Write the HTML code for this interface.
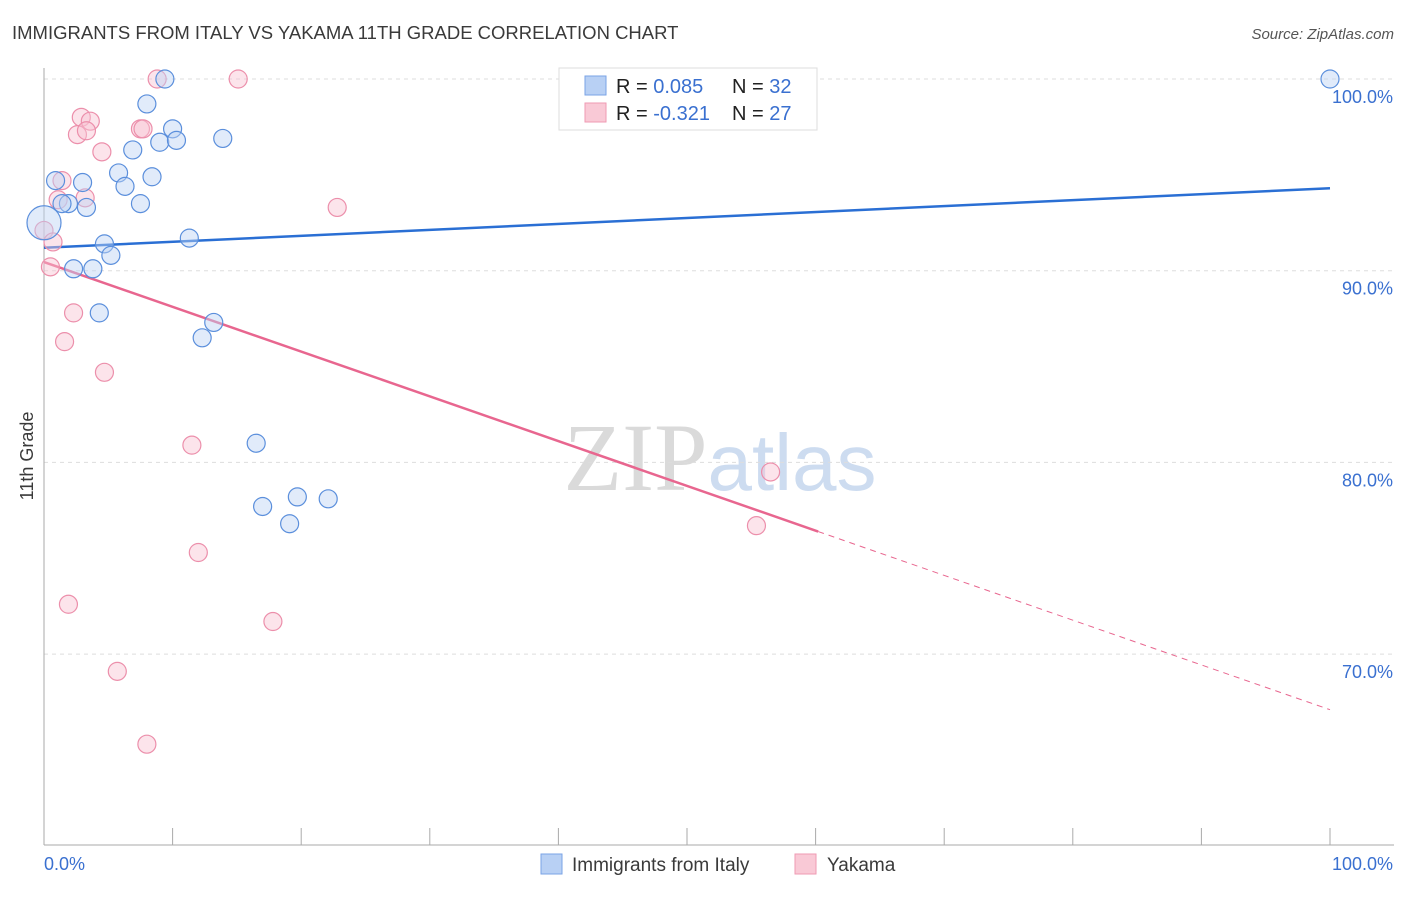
<!DOCTYPE html>
<html><head><meta charset="utf-8"><style>
body{margin:0;background:#fff;font-family:"Liberation Sans",sans-serif;}
svg text{font-family:"Liberation Sans",sans-serif;}
</style></head><body>
<svg id="chart" width="1406" height="892" xmlns="http://www.w3.org/2000/svg">
<text x="12" y="39" font-size="18.5" fill="#3a3a3a">IMMIGRANTS FROM ITALY VS YAKAMA 11TH GRADE CORRELATION CHART</text>
<text x="1394" y="39" font-size="15" fill="#555" text-anchor="end" font-style="italic">Source: ZipAtlas.com</text>
<text x="720" y="490" font-size="96" text-anchor="middle" fill="#e2e2e2"><tspan font-family="Liberation Serif" fill="#dadada">ZIP</tspan><tspan fill="#cddcf0" font-size="80">atlas</tspan></text>
<g id="grid"></g>
<g id="axes"></g>
<g id="lines"></g>
<g id="points"></g>
<text transform="translate(33,456) rotate(-90)" font-size="18" fill="#3a3a3a" text-anchor="middle">11th Grade</text>
<text x="44" y="870" font-size="18" fill="#3a70d0">0.0%</text>
<text x="1393" y="870" font-size="18" fill="#3a70d0" text-anchor="end">100.0%</text>
<g>
<rect x="559" y="68" width="258" height="62" fill="#fff" stroke="#ddd"/>
<rect x="585" y="76" width="21" height="19" fill="#b8d0f4" stroke="#7aa3e6"/>
<rect x="585" y="103" width="21" height="19" fill="#f9c9d6" stroke="#ef9ab3"/>
<text x="616" y="93" font-size="20" fill="#222">R = <tspan fill="#3a70d0">0.085</tspan><tspan x="732">N = </tspan><tspan fill="#3a70d0">32</tspan></text>
<text x="616" y="120" font-size="20" fill="#222">R = <tspan fill="#3a70d0">-0.321</tspan><tspan x="732">N = </tspan><tspan fill="#3a70d0">27</tspan></text>
</g>
<g>
<rect x="541" y="854" width="21" height="20" fill="#b8d0f4" stroke="#7aa3e6"/>
<text x="572" y="871" font-size="19" fill="#3a3a3a">Immigrants from Italy</text>
<rect x="795" y="854" width="21" height="20" fill="#f9c9d6" stroke="#ef9ab3"/>
<text x="827" y="871" font-size="19" fill="#3a3a3a">Yakama</text>
</g>
</svg>
<script>
const yTicks=[100,90,80,70];
const yTickLabels=["100.0%","90.0%","80.0%","70.0%"];
const xTicks=[0,10,20,30,40,50,60,70,80,90,100];
const italyX=[9.4,44.9,100,8.0,10.0,13.9,9.0,10.3,6.9,5.8,8.4,0.9,3.0,6.3,7.5,1.9,1.4,3.3,0,11.3,4.7,5.2,2.3,3.8,4.3,13.2,12.3,16.5,19.7,22.1,17.0,19.1];
const italyY=[100,100,100,98.7,97.4,96.9,96.7,96.8,96.3,95.1,94.9,94.7,94.6,94.4,93.5,93.5,93.5,93.3,92.5,91.7,91.4,90.8,90.1,90.1,87.8,87.3,86.5,81.0,78.2,78.1,77.7,76.8];
const yakX=[8.8,15.1,2.9,3.6,2.6,3.3,7.5,7.7,4.5,1.4,1.1,3.2,22.8,0,0.7,0.5,2.3,1.6,4.7,11.5,56.5,55.4,12.0,1.9,17.8,5.7,8.0];
const yakY=[100,100,98.0,97.8,97.1,97.3,97.4,97.4,96.2,94.7,93.7,93.8,93.3,92.1,91.5,90.2,87.8,86.3,84.7,80.9,79.5,76.7,75.3,72.6,71.7,69.1,65.3];
const italyTrend=[91.2,94.3];
const yakTrend=[90.45,67.1];
const yakSolidEnd=60.2;
const NS="http://www.w3.org/2000/svg";
function sx(v){return 44+v*12.86;}
function sy(v){return 79+(100-v)*19.17;}
function mk(tag,attrs,parent){const e=document.createElementNS(NS,tag);for(const k in attrs)e.setAttribute(k,attrs[k]);document.getElementById(parent).appendChild(e);return e;}
yTicks.forEach((t,i)=>{
 const l=mk('line',{x1:44,x2:1394,y1:sy(t),y2:sy(t),stroke:'#ddd','stroke-dasharray':'4,4'},'grid');
 
 
 const tx=mk('text',{x:1393,y:sy(t)+24,'font-size':18,fill:'#3a70d0','text-anchor':'end'},'grid');
 tx.textContent=yTickLabels[i];
 
 
});
const ax=mk('line',{x1:44,x2:44,y1:68,y2:845,stroke:'#aaa'},'axes');


const bx=mk('line',{x1:44,x2:1394,y1:845,y2:845,stroke:'#aaa'},'axes');


xTicks.forEach(t=>{
 const l=mk('line',{x1:sx(t),x2:sx(t),y1:828,y2:845,stroke:'#aaa'},'axes');
 
 
});
function pts(xs,ys,fill,stroke,name){
 xs.forEach((x,i)=>{
  const big=(x===0&&ys[i]===92.5);
  const c=mk('circle',{cx:sx(x),cy:sy(ys[i]),r:big?17:9,fill:fill,'fill-opacity':0.45,stroke:stroke,'stroke-width':1.2},'points');
  
  
 });
}
pts(yakX,yakY,'#f9c3d2','#ec8fab','yakama-point');
pts(italyX,italyY,'#bcd3f3','#5b8fdc','italy-point');
const l1=mk('line',{x1:sx(0),y1:sy(italyTrend[0]),x2:sx(100),y2:sy(italyTrend[1]),stroke:'#2a6fd4','stroke-width':2.5},'lines');


const ym=yakTrend[0]+(yakTrend[1]-yakTrend[0])*yakSolidEnd/100;
const l2=mk('line',{x1:sx(0),y1:sy(yakTrend[0]),x2:sx(yakSolidEnd),y2:sy(ym),stroke:'#e8668f','stroke-width':2.5},'lines');


const l3=mk('line',{x1:sx(yakSolidEnd),y1:sy(ym),x2:sx(100),y2:sy(yakTrend[1]),stroke:'#e8668f','stroke-width':1,'stroke-dasharray':'6,5'},'lines');


</script>
</body></html>
